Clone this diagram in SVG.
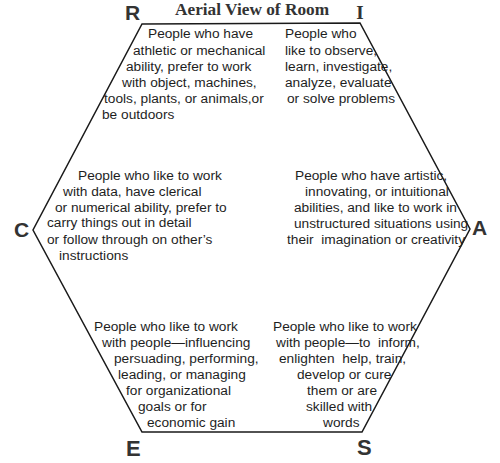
<svg xmlns="http://www.w3.org/2000/svg" width="500" height="463" viewBox="0 0 500 463">
<style>
.t{font-family:"Liberation Sans",Arial,sans-serif;font-size:13.7px;fill:#1e1e1e}
.L{font-family:"Liberation Sans",Arial,sans-serif;font-weight:bold;fill:#333}
.edge{fill:none;stroke:#1a1a1a;stroke-width:1.5;stroke-linejoin:miter}
</style>
<rect width="500" height="463" fill="#fff"/>
<text x="175" y="15" font-family="'Liberation Serif','Times New Roman',serif" font-weight="bold" font-size="17.3" fill="#333">Aerial View of Room</text>
<g id="connectors">
<polygon class="edge" points="142,24 360,23 470,229 362,432 142,432 33,230"/>
</g>
<g id="R">
<text class="L" x="125" y="20" font-size="21">R</text>
<text class="t"><tspan x="148" y="38">People who have</tspan><tspan x="133" y="55">athletic or mechanical</tspan><tspan x="126" y="71">ability, prefer to work</tspan><tspan x="122" y="87">with object, machines,</tspan><tspan x="104" y="103">tools, plants, or animals,or</tspan><tspan x="102" y="119">be outdoors</tspan></text>
</g>
<g id="I">
<text x="360" y="19" text-anchor="middle" font-family="'Liberation Serif','Times New Roman',serif" font-weight="bold" font-size="19" fill="#333">I</text>
<text class="t"><tspan x="285" y="38">People who</tspan><tspan x="285" y="55">like to observe,</tspan><tspan x="285" y="71">learn, investigate,</tspan><tspan x="285" y="87">analyze, evaluate</tspan><tspan x="287" y="103">or solve problems</tspan></text>
</g>
<g id="C">
<text class="L" x="14" y="237" font-size="21">C</text>
<text class="t"><tspan x="78" y="180">People who like to work</tspan><tspan x="63" y="196">with data, have clerical</tspan><tspan x="55" y="212">or numerical ability, prefer to</tspan><tspan x="47" y="227">carry things out in detail</tspan><tspan x="47" y="244">or follow through on other’s</tspan><tspan x="59" y="260">instructions</tspan></text>
</g>
<g id="A">
<text class="L" x="472" y="235" font-size="21">A</text>
<text class="t"><tspan x="295" y="180">People who have artistic,</tspan><tspan x="305" y="196">innovating, or intuitional</tspan><tspan x="294" y="212">abilities, and like to work in</tspan><tspan x="294" y="228">unstructured situations using</tspan><tspan x="287" y="244" xml:space="preserve">their  imagination or creativity</tspan></text>
</g>
<g id="E">
<text class="L" x="126" y="456" font-size="22">E</text>
<text class="t"><tspan x="94" y="331">People who like to work</tspan><tspan x="102" y="347">with people—influencing</tspan><tspan x="114" y="363">persuading, performing,</tspan><tspan x="118" y="379">leading, or managing</tspan><tspan x="126" y="395">for organizational</tspan><tspan x="138" y="411">goals or for</tspan><tspan x="147" y="427">economic gain</tspan></text>
</g>
<g id="S">
<text class="L" x="357" y="455" font-size="22">S</text>
<text class="t" xml:space="preserve"><tspan x="273" y="331">People who like to work</tspan><tspan x="276" y="347">with people—to  inform,</tspan><tspan x="279" y="363">enlighten  help, train,</tspan><tspan x="297" y="379">develop or cure</tspan><tspan x="307" y="395">them or are</tspan><tspan x="306" y="411">skilled with</tspan><tspan x="323" y="427">words</tspan></text>
</g>
</svg>
